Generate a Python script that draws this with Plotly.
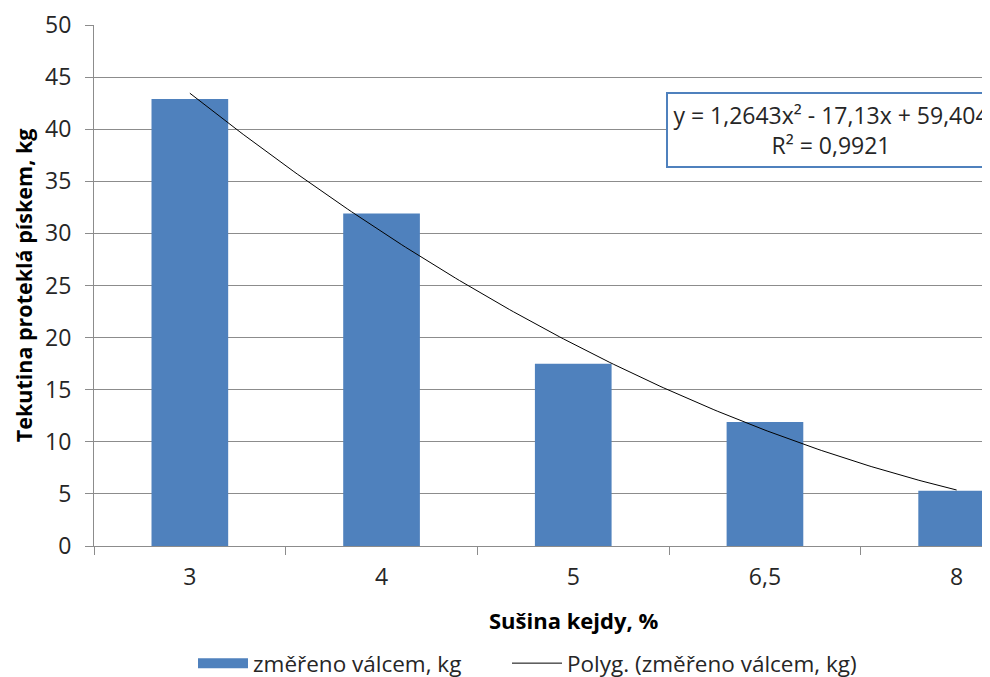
import numpy as np
import plotly.graph_objects as go

# ---- data ----
categories = ["3", "4", "5", "6,5", "8"]          # Sušina kejdy, %
values = [42.9, 31.9, 17.5, 11.9, 5.3]            # změřeno válcem, kg
positions = [1, 2, 3, 4, 5]                       # Excel category index used for trendline
y_ticks = [0, 5, 10, 15, 20, 25, 30, 35, 40, 45, 50]
series_name = "změřeno válcem, kg"
trend_name = "Polyg. (změřeno válcem, kg)"
eq_text = "y = 1,2643x² - 17,13x + 59,404<br>R² = 0,9921"

# polynomial (order 2) trendline fitted to the bar values, like Excel does
coef = np.polyfit(positions, values, 2)
xs = np.linspace(positions[0], positions[-1], 200)
ys = np.polyval(coef, xs)

FONT = "Open Sans"
BAR = "#4F81BD"
GRID = "#8C8C8C"
TXT = "#262626"

# photographed page: body margin 8px, vertical scale ~0.977
SY = 0.977
def fy(screen_y):                 # screen y -> figure y
    return screen_y / SY - 8

W, H = 982, 677
PL = 86
PT = round(fy(24))
PB = round(fy(546))
PW, PH = W - PL, PB - PT
CAT = 191.7                       # pixels per category

def py(screen_y):                 # screen y -> paper y
    return (PB - fy(screen_y)) / PH

def px(screen_x):                 # screen x -> paper x
    return (screen_x - 8 - PL) / PW

fig = go.Figure()
fig.add_trace(go.Bar(
    x=positions, y=values, name=series_name, legendgroup="bar", showlegend=False,
    marker=dict(color=BAR, line=dict(width=0)), width=0.4,
))
# legend key for the bars (wide rectangle like Excel's)
fig.add_trace(go.Scatter(
    x=[None], y=[None], mode="lines", name=series_name, legendgroup="bar",
    line=dict(color=BAR, width=14), legend="legend", hoverinfo="skip",
))
fig.add_trace(go.Scatter(
    x=xs, y=ys, mode="lines", name=trend_name, legend="legend2",
    line=dict(color="black", width=1),
))

leg_common = dict(orientation="h", xanchor="left", y=py(664), yanchor="middle",
                  font=dict(family=FONT, size=22.5, color=TXT),
                  itemwidth=50, tracegroupgap=0, bgcolor="rgba(0,0,0,0)")

fig.update_layout(
    width=W, height=H,
    margin=dict(l=PL, r=0, t=PT, b=H - PB),
    paper_bgcolor="white", plot_bgcolor="white",
    font=dict(family=FONT, size=20, color=TXT),
    showlegend=True,
    legend=dict(x=px(193), **leg_common),
    legend2=dict(x=px(507), **leg_common),
    bargap=0.6,
)

fig.update_xaxes(
    range=[0.5, 0.5 + PW / CAT], automargin=False,
    tickmode="array", tickvals=positions, ticktext=categories,
    ticks="outside", ticklen=0, ticklabelstandoff=10,
    tickfont=dict(family=FONT, size=23, color=TXT),
    showgrid=False, zeroline=False,
    showline=True, linecolor=GRID, linewidth=1,
    minor=dict(tickmode="array", tickvals=[0.5, 1.5, 2.5, 3.5, 4.5],
               ticks="outside", ticklen=8, tickcolor=GRID, tickwidth=1, showgrid=False),
)
fig.update_yaxes(
    range=[0, 50], tickmode="array", tickvals=y_ticks, automargin=False,
    ticks="outside", ticklen=8, tickcolor=GRID, ticklabelstandoff=9,
    ticklabeloverflow="allow",
    tickfont=dict(family=FONT, size=23, color=TXT),
    showgrid=True, gridcolor=GRID, gridwidth=1,
    zeroline=False, showline=True, linecolor=GRID, linewidth=1,
)

# axis titles
fig.add_annotation(x=3, xref="x", y=py(620), yref="paper",
                   text="<b>Sušina kejdy, %</b>", showarrow=False,
                   font=dict(family=FONT, size=22, color="black"),
                   xanchor="center", yanchor="middle")
fig.add_annotation(x=px(23), xref="paper", y=py(285), yref="paper",
                   text="<b>Tekutina proteklá pískem, kg</b>", showarrow=False,
                   textangle=-90, font=dict(family=FONT, size=21.5, color="black"),
                   xanchor="center", yanchor="middle")

# trendline equation box
fig.add_annotation(x=px(666), xref="paper", y=py(92), yref="paper",
                   xanchor="left", yanchor="top",
                   text=eq_text, showarrow=False, align="center",
                   width=324, height=70,
                   font=dict(family=FONT, size=23, color=TXT),
                   bgcolor="white", bordercolor="#4F81BD", borderwidth=2, borderpad=1)

fig.write_html("out.html")
